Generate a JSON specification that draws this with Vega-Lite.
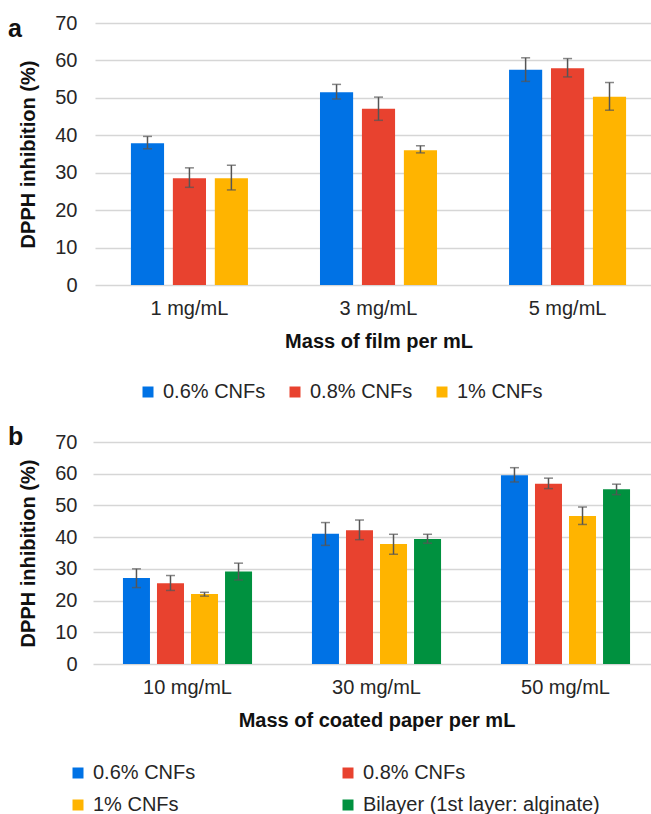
{
  "$schema": "https://vega.github.io/schema/vega-lite/v6.json",
  "padding": {"left": 8, "top": 13, "right": 0, "bottom": 0},
  "datasets": {
    "a": [
      {"mass": "1 mg/mL", "series": "0.6% CNFs", "value": 37.9, "lo": 36.4, "hi": 39.7},
      {"mass": "1 mg/mL", "series": "0.8% CNFs", "value": 28.5, "lo": 26.1, "hi": 31.3},
      {"mass": "1 mg/mL", "series": "1% CNFs", "value": 28.5, "lo": 25.4, "hi": 32.0},
      {"mass": "3 mg/mL", "series": "0.6% CNFs", "value": 51.5, "lo": 49.7, "hi": 53.6},
      {"mass": "3 mg/mL", "series": "0.8% CNFs", "value": 47.1, "lo": 44.0, "hi": 50.2},
      {"mass": "3 mg/mL", "series": "1% CNFs", "value": 36.0, "lo": 35.3, "hi": 37.2},
      {"mass": "5 mg/mL", "series": "0.6% CNFs", "value": 57.5, "lo": 54.4, "hi": 60.7},
      {"mass": "5 mg/mL", "series": "0.8% CNFs", "value": 57.9, "lo": 55.6, "hi": 60.5},
      {"mass": "5 mg/mL", "series": "1% CNFs", "value": 50.3, "lo": 46.7, "hi": 54.1}
    ],
    "b": [
      {"mass": "10 mg/mL", "series": "0.6% CNFs", "value": 27.1, "lo": 24.1, "hi": 30.0},
      {"mass": "10 mg/mL", "series": "0.8% CNFs", "value": 25.5, "lo": 23.2, "hi": 27.9},
      {"mass": "10 mg/mL", "series": "1% CNFs", "value": 22.1, "lo": 21.4, "hi": 22.6},
      {"mass": "10 mg/mL", "series": "Bilayer (1st layer: alginate)", "value": 29.2, "lo": 26.5, "hi": 31.8},
      {"mass": "30 mg/mL", "series": "0.6% CNFs", "value": 41.1, "lo": 37.4, "hi": 44.6},
      {"mass": "30 mg/mL", "series": "0.8% CNFs", "value": 42.2, "lo": 39.2, "hi": 45.4},
      {"mass": "30 mg/mL", "series": "1% CNFs", "value": 37.8, "lo": 34.6, "hi": 40.9},
      {"mass": "30 mg/mL", "series": "Bilayer (1st layer: alginate)", "value": 39.4, "lo": 38.1, "hi": 40.9},
      {"mass": "50 mg/mL", "series": "0.6% CNFs", "value": 59.5, "lo": 57.4, "hi": 61.9},
      {"mass": "50 mg/mL", "series": "0.8% CNFs", "value": 56.8, "lo": 55.3, "hi": 58.6},
      {"mass": "50 mg/mL", "series": "1% CNFs", "value": 46.7, "lo": 44.0, "hi": 49.5},
      {"mass": "50 mg/mL", "series": "Bilayer (1st layer: alginate)", "value": 55.1, "lo": 53.4, "hi": 56.7}
    ]
  },
  "config": {
    "font": "Liberation Sans",
    "view": {"stroke": null},
    "axis": {
      "labelFont": "Liberation Sans", "labelFontSize": 20, "labelColor": "#262626",
      "titleFont": "Liberation Sans", "titleFontSize": 20, "titleFontWeight": "bold", "titleColor": "#111111",
      "ticks": false, "domain": false, "labelOverlap": false
    },
    "axisY": {"gridColor": "#d6d6d6", "gridWidth": 1.5, "labelPadding": 16, "titlePadding": 16},
    "axisX": {"labelAngle": 0, "labelPadding": 13, "titlePadding": 13, "grid": false},
    "legend": {
      "labelFont": "Liberation Sans", "labelFontSize": 20, "labelColor": "#262626", "labelLimit": 400,
      "symbolType": "square", "symbolSize": 121, "symbolStrokeWidth": 0, "labelOffset": 5
    },
    "title": {"font": "Liberation Sans", "fontSize": 25, "fontWeight": "bold", "color": "#111111", "anchor": "start", "frame": "group", "offset": 0, "baseline": "alphabetic"}
  },
  "spacing": 23,
  "resolve": {"scale": {"color": "independent", "x": "independent", "xOffset": "independent", "y": "independent"}},
  "vconcat": [
    {
      "width": 556,
      "height": 262,
      "data": {"name": "a"},
      "title": {"text": "a", "dx": -85, "dy": 33},
      "encoding": {
        "x": {"field": "mass", "type": "nominal", "sort": ["1 mg/mL", "3 mg/mL", "5 mg/mL"],
              "scale": {"range": [2, 569], "paddingInner": 0.381, "paddingOuter": 0.19},
              "axis": {"title": "Mass of film per mL"}},
        "xOffset": {"field": "series", "type": "nominal", "sort": ["0.6% CNFs", "0.8% CNFs", "1% CNFs"],
                    "scale": {"paddingInner": 0.21, "paddingOuter": 0}}
      },
      "layer": [
        {
          "mark": {"type": "bar"},
          "encoding": {
            "y": {"field": "value", "type": "quantitative", "scale": {"domain": [0, 70]},
                  "axis": {"title": "DPPH inhibition (%)", "values": [0, 10, 20, 30, 40, 50, 60, 70]}},
            "color": {"field": "series", "type": "nominal",
                      "scale": {"domain": ["0.6% CNFs", "0.8% CNFs", "1% CNFs"], "range": ["#0072E5", "#E8422F", "#FFB400"]},
                      "legend": {"orient": "none", "legendX": 45, "legendY": 359, "direction": "horizontal", "title": null, "columnPadding": 19}}
          }
        },
        {
          "mark": {"type": "rule", "color": "#555555", "strokeWidth": 1.5},
          "encoding": {
            "y": {"field": "lo", "type": "quantitative", "title": "DPPH inhibition (%)", "axis": {"values": [0, 10, 20, 30, 40, 50, 60, 70]}},
            "y2": {"field": "hi"}
          }
        },
        {
          "mark": {"type": "tick", "color": "#555555", "thickness": 1.5, "size": 9, "orient": "horizontal"},
          "encoding": {"y": {"field": "lo", "type": "quantitative", "title": "DPPH inhibition (%)", "axis": {"values": [0, 10, 20, 30, 40, 50, 60, 70]}}}
        },
        {
          "mark": {"type": "tick", "color": "#555555", "thickness": 1.5, "size": 9, "orient": "horizontal"},
          "encoding": {"y": {"field": "hi", "type": "quantitative", "title": "DPPH inhibition (%)", "axis": {"values": [0, 10, 20, 30, 40, 50, 60, 70]}}}
        }
      ]
    },
    {
      "width": 556,
      "height": 222,
      "data": {"name": "b"},
      "title": {"text": "b", "dx": -85, "dy": 22},
      "encoding": {
        "x": {"field": "mass", "type": "nominal", "sort": ["10 mg/mL", "30 mg/mL", "50 mg/mL"],
              "scale": {"range": [0, 567], "paddingInner": 0.317, "paddingOuter": 0.1585},
              "axis": {"title": "Mass of coated paper per mL"}},
        "xOffset": {"field": "series", "type": "nominal", "sort": ["0.6% CNFs", "0.8% CNFs", "1% CNFs", "Bilayer (1st layer: alginate)"],
                    "scale": {"paddingInner": 0.206, "paddingOuter": 0}}
      },
      "layer": [
        {
          "mark": {"type": "bar"},
          "encoding": {
            "y": {"field": "value", "type": "quantitative", "scale": {"domain": [0, 70]},
                  "axis": {"title": "DPPH inhibition (%)", "values": [0, 10, 20, 30, 40, 50, 60, 70]}},
            "color": {"field": "series", "type": "nominal",
                      "scale": {"domain": ["0.6% CNFs", "0.8% CNFs", "1% CNFs", "Bilayer (1st layer: alginate)"], "range": ["#0072E5", "#E8422F", "#FFB400", "#00913F"]},
                      "legend": {"orient": "none", "legendX": -25, "legendY": 321, "direction": "horizontal", "columns": 2, "title": null, "columnPadding": 142, "rowPadding": 12}}
          }
        },
        {
          "mark": {"type": "rule", "color": "#555555", "strokeWidth": 1.5},
          "encoding": {
            "y": {"field": "lo", "type": "quantitative", "title": "DPPH inhibition (%)", "axis": {"values": [0, 10, 20, 30, 40, 50, 60, 70]}},
            "y2": {"field": "hi"}
          }
        },
        {
          "mark": {"type": "tick", "color": "#555555", "thickness": 1.5, "size": 9, "orient": "horizontal"},
          "encoding": {"y": {"field": "lo", "type": "quantitative", "title": "DPPH inhibition (%)", "axis": {"values": [0, 10, 20, 30, 40, 50, 60, 70]}}}
        },
        {
          "mark": {"type": "tick", "color": "#555555", "thickness": 1.5, "size": 9, "orient": "horizontal"},
          "encoding": {"y": {"field": "hi", "type": "quantitative", "title": "DPPH inhibition (%)", "axis": {"values": [0, 10, 20, 30, 40, 50, 60, 70]}}}
        }
      ]
    }
  ]
}
